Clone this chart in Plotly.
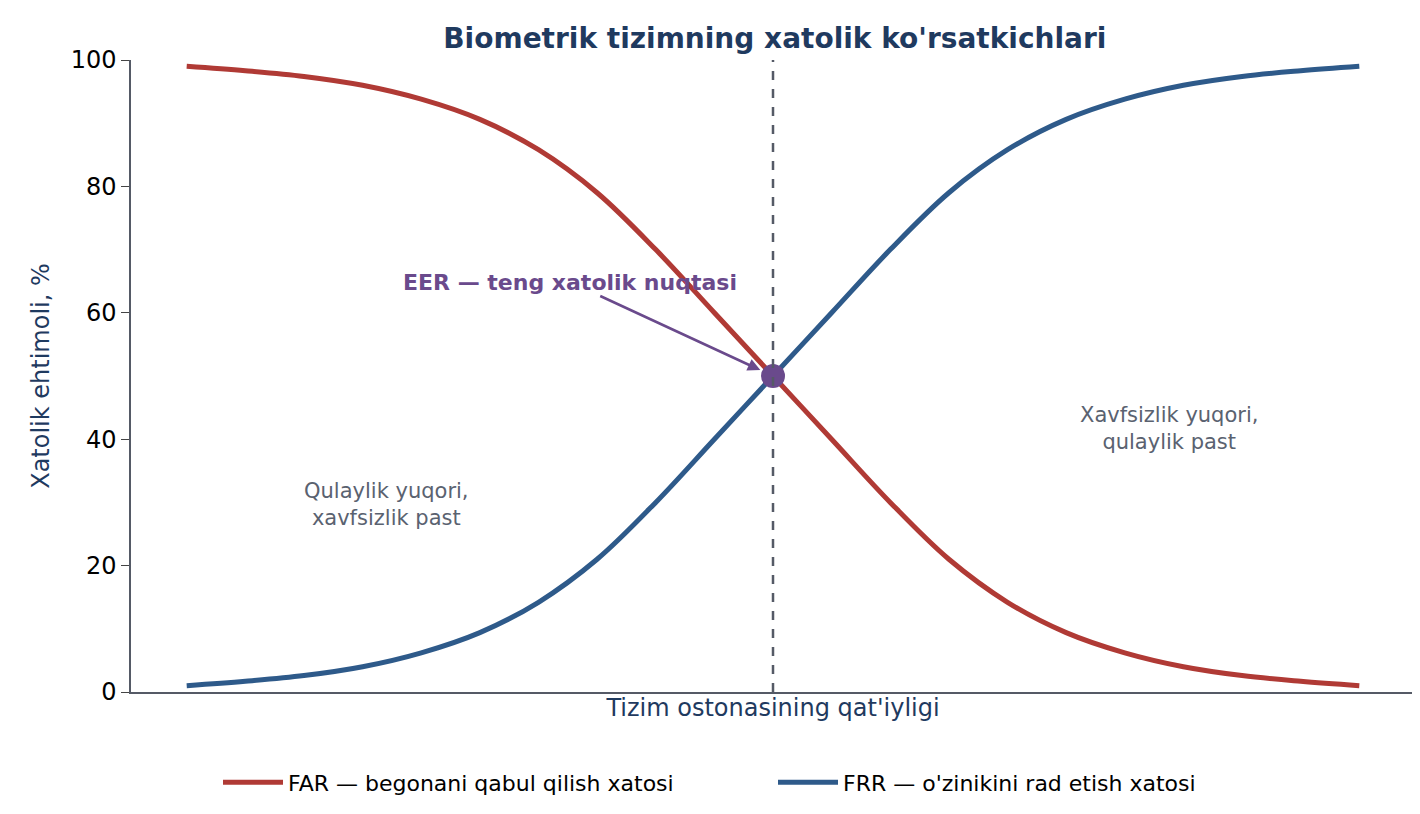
import plotly.graph_objects as go

# threshold steps (arbitrary units, no ticks shown)
threshold = list(range(21))
frr = [1.0, 1.7, 2.6, 4.0, 6.2, 9.4, 14.2, 21.0, 30.0, 40.0, 50.0,
       60.0, 70.0, 79.0, 85.8, 90.6, 93.8, 96.0, 97.4, 98.3, 99.0]
far = [99.0, 98.3, 97.4, 96.0, 93.8, 90.6, 85.8, 79.0, 70.0, 60.0, 50.0,
       40.0, 30.0, 21.0, 14.2, 9.4, 6.2, 4.0, 2.6, 1.7, 1.0]
eer_x, eer_y = 10, 50

navy = "#1f3a5f"
fig = go.Figure()
fig.add_trace(go.Scatter(x=threshold, y=far, mode="lines", line=dict(color="#b03a35", width=5, shape="spline"),
                         name="FAR — begonani qabul qilish xatosi"))
fig.add_trace(go.Scatter(x=threshold, y=frr, mode="lines", line=dict(color="#2e5a8a", width=5, shape="spline"),
                         name="FRR — o'zinikini rad etish xatosi"))
fig.add_trace(go.Scatter(x=[eer_x], y=[eer_y], mode="markers", marker=dict(color="#6a4a8c", size=24),
                         showlegend=False))
fig.add_shape(type="line", x0=eer_x, x1=eer_x, y0=0, y1=100, line=dict(color="#555a66", width=2.5, dash="dash"))

fig.add_annotation(x=eer_x, y=eer_y, ax=-203, ay=-94, text="<b>EER — teng xatolik nuqtasi</b>",
                   font=dict(size=22, color="#6a4a8c"), arrowcolor="#6a4a8c", arrowwidth=2.5,
                   arrowhead=2, standoff=14)
fig.add_annotation(x=3.41, y=29.7, text="Qulaylik yuqori,<br>xavfsizlik past", showarrow=False,
                   font=dict(size=21, color="#5a6270"))
fig.add_annotation(x=16.76, y=41.7, text="Xavfsizlik yuqori,<br>qulaylik past", showarrow=False,
                   font=dict(size=21, color="#5a6270"))

fig.update_layout(
    width=1420, height=814, plot_bgcolor="white", paper_bgcolor="white",
    font=dict(family="DejaVu Sans", color="black"),
    margin=dict(l=123, r=13, t=52, b=130),
    title=dict(text="<b>Biometrik tizimning xatolik ko'rsatkichlari</b>", x=0.54, xanchor="center",
               y=0.975, yanchor="top", font=dict(size=28, color=navy)),
    xaxis=dict(range=[-0.95, 20.95], showticklabels=False, showgrid=False, zeroline=False,
               showline=True, linecolor="#555a66", linewidth=1.5,
               title=dict(text="Tizim ostonasining qat'iyligi", font=dict(size=24, color=navy), standoff=6)),
    yaxis=dict(range=[0, 100], dtick=20, showgrid=False, zeroline=False, showline=True,
               linecolor="#555a66", linewidth=1.5, ticks="outside", ticklen=8, tickfont=dict(size=24),
               title=dict(text="Xatolik ehtimoli, %", font=dict(size=24, color=navy), standoff=14)),
    legend=dict(orientation="h", x=0.5, xanchor="center", y=-0.11, yanchor="top", font=dict(size=22),
                itemwidth=60, entrywidth=480),
)
fig.write_html("out.html")
